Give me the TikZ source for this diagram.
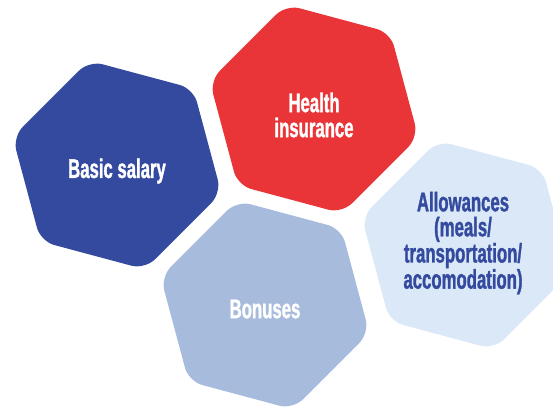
\documentclass[tikz,border=0pt]{standalone}
\usepackage{fontspec}
\newfontfamily\cond[FakeStretch=0.62, BoldFeatures={FakeBold=1.2}]{Liberation Sans}
\usetikzlibrary{shapes.geometric}
\definecolor{blu}{HTML}{344A9F}
\definecolor{rosso}{HTML}{E93537}
\definecolor{azzurro}{HTML}{A7BCDC}
\definecolor{celeste}{HTML}{DAE8F8}
\tikzset{
  hexa/.style = {regular polygon, regular polygon sides=6, shape border rotate=45, minimum size=216pt, inner sep=0, rounded corners=14pt},
  et/.style   = {align=center, inner sep=0, font=\cond\bfseries\fontsize{27}{25}\selectfont}
}
\begin{document}
\begin{tikzpicture}[x=1pt,y=-1pt]
  \useasboundingbox (0,0) rectangle (553,411);

  \node[hexa, fill=blu]     (bs) at (117,165) {};
  \node[hexa, fill=rosso]   (hi) at (314,109) {};
  \node[hexa, fill=celeste] (al) at (466,245) {};
  \node[hexa, fill=azzurro] (bo) at (265,305) {};

  \node[et, white] at ([yshift=-6pt]bs) {Basic salary};
  \node[et, white] at ([yshift=-6pt]hi) {Health\\insurance};
  \node[et, blu]   at ([xshift=-3pt,yshift=2pt]al) {Allowances\\(meals/\\transportation/\\accomodation)};
  \node[et, white] at ([yshift=-4pt]bo) {Bonuses};
\end{tikzpicture}
\end{document}
